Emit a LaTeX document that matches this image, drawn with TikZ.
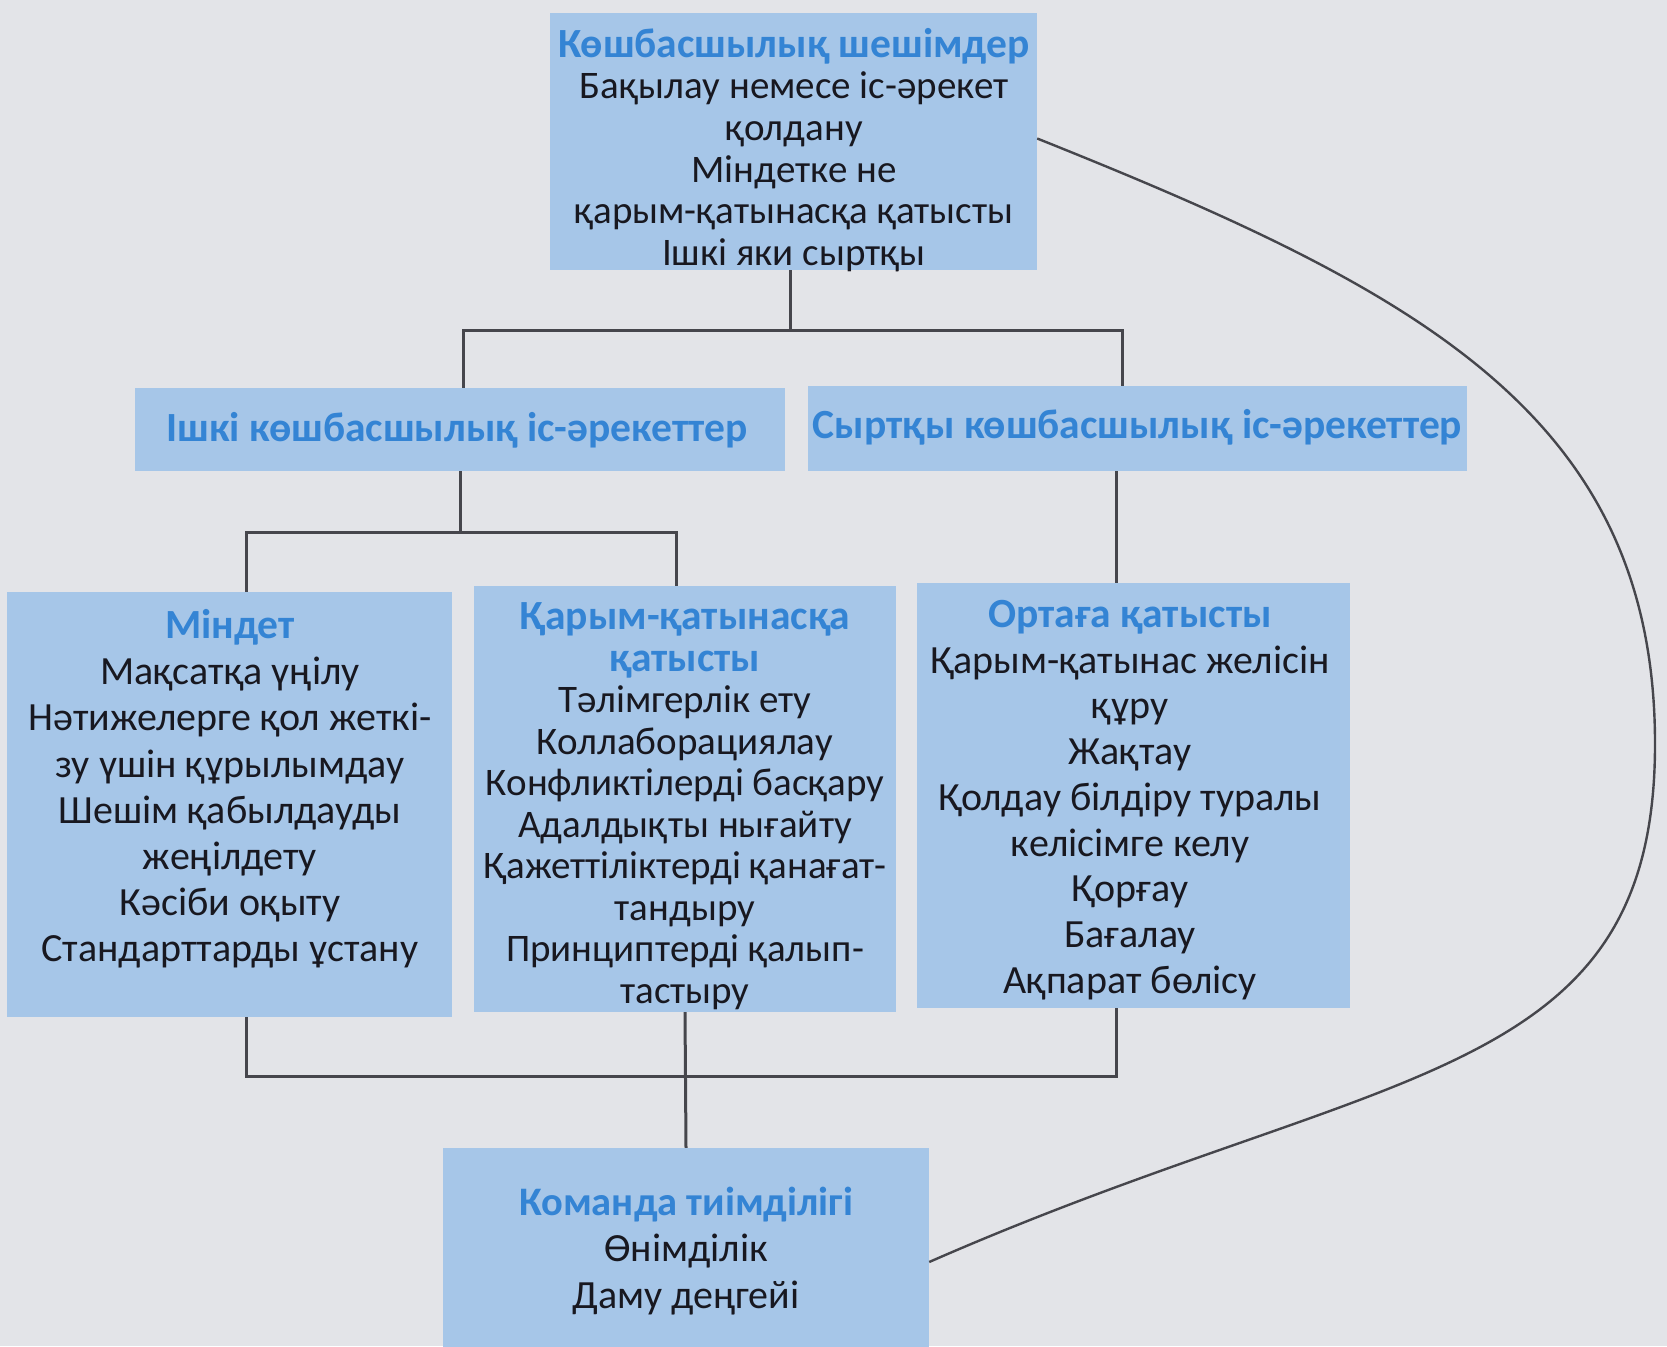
\documentclass[tikz,border=0pt]{standalone}
\usepackage{fontspec}
\setmainfont{Carlito}
\definecolor{paper}{RGB}{227,228,232}
\definecolor{boxblue}{RGB}{166,198,232}
\definecolor{headblue}{RGB}{52,132,212}
\definecolor{ink}{RGB}{24,24,32}
\definecolor{linegray}{RGB}{70,70,76}
\begin{document}
\begin{tikzpicture}[x=1pt,y=-1pt,
  box/.style={fill=boxblue, draw=none, inner sep=0pt, anchor=center},
  txt/.style={align=center, text=ink, inner sep=0pt, anchor=center},
  hd/.style={text=headblue, font=\bfseries\fontsize{41.5}{42}\selectfont},
  head/.style={hd, inner sep=0pt, anchor=center},
  link/.style={draw=linegray, line width=3pt}]
\useasboundingbox (0,0) rectangle (1667,1346);
\clip (0,0) rectangle (1667,1346);
\fill[paper] (0,0) rectangle (1667,1346);

% boxes
\node[box, minimum width=487, minimum height=257] (top) at (793.5,141.5) {};
\node[box, minimum width=650, minimum height=83] (inner) at (460,429.5) {};
\node[box, minimum width=659, minimum height=85] (outer) at (1137.5,428.5) {};
\node[box, minimum width=445, minimum height=425] (task) at (229.5,804.5) {};
\node[box, minimum width=422, minimum height=426] (rel) at (685,799) {};
\node[box, minimum width=433, minimum height=425] (env) at (1133.5,795.5) {};
\node[box, minimum width=486, minimum height=220] (team) at (686,1258) {};

% texts
\newcommand{\hdline}[1]{{\color{headblue}\bfseries\fontsize{41.5}{42}\selectfont #1}}
\node[txt, font=\fontsize{39}{41.7}\selectfont] (topT) at (794,150)
  {\hdline{Көшбасшылық шешімдер}\\Бақылау немесе іс-әрекет\\қолдану\\Міндетке не\\қарым-қатынасқа қатысты\\Ішкі яки сыртқы};
\node[head] (innerT) at (457,430) {Ішкі көшбасшылық іс-әрекеттер};
\node[head] (outerT) at (1137.5,427) {Сыртқы көшбасшылық іс-әрекеттер};
\node[txt, font=\fontsize{40}{46.2}\selectfont] (taskT) at (230,789)
  {\hdline{Міндет}\\Мақсатқа үңілу\\Нәтижелерге қол жеткі-\\зу үшін құрылымдау\\Шешім қабылдауды\\жеңілдету\\Кәсіби оқыту\\Стандарттарды ұстану};
\node[txt, font=\fontsize{39}{41.5}\selectfont] (relT) at (685,806)
  {\hdline{Қарым-қатынасқа}\\\hdline{қатысты}\\Тәлімгерлік ету\\Коллаборациялау\\Конфликтілерді басқару\\Адалдықты нығайту\\Қажеттіліктерді қанағат-\\тандыру\\Принциптерді қалып-\\тастыру};
\node[txt, font=\fontsize{40}{45.7}\selectfont] (envT) at (1130,800)
  {\hdline{Ортаға қатысты}\\Қарым-қатынас желісін\\құру\\Жақтау\\Қолдау білдіру туралы\\келісімге келу\\Қорғау\\Бағалау\\Ақпарат бөлісу};
\node[txt, font=\fontsize{40}{46.8}\selectfont] (teamT) at (686,1251)
  {{\color{headblue}\bfseries\fontsize{40.5}{42}\selectfont Команда тиімділігі}\\Өнімділік\\Даму деңгейі};

% junctions of the tree
\coordinate (hubA) at (790,330);
\coordinate (hubB) at (460,532);
\coordinate (hubC) at (685,1076);
\coordinate (loop) at (1655,744);

% connectors
\draw[link] (top.south -| hubA) -- (hubA);
\draw[link] ([xshift=3]inner.north) |- (hubA) -| ([xshift=-15]outer.north);
\draw[link] (inner.south) -- (hubB);
\draw[link] ([xshift=17]task.north) |- (hubB) -| ([xshift=-9]rel.north);
\draw[link] ([xshift=-21]outer.south) -- ([xshift=-21]outer.south |- env.north);
\draw[link] ([xshift=17]task.south) |- (hubC) -| ([xshift=-17]env.south);
\draw[link] (rel.south) -- (team.north);

% feedback loop from team effectiveness back to leadership decisions
\draw[line width=2.4pt, draw=linegray] ([yshift=3]top.east) .. controls (1416,290) and (1655,414) .. (loop)
  .. controls (1655,1085) and (1385,1062) .. ([yshift=-4]team.east);
\end{tikzpicture}
\end{document}
